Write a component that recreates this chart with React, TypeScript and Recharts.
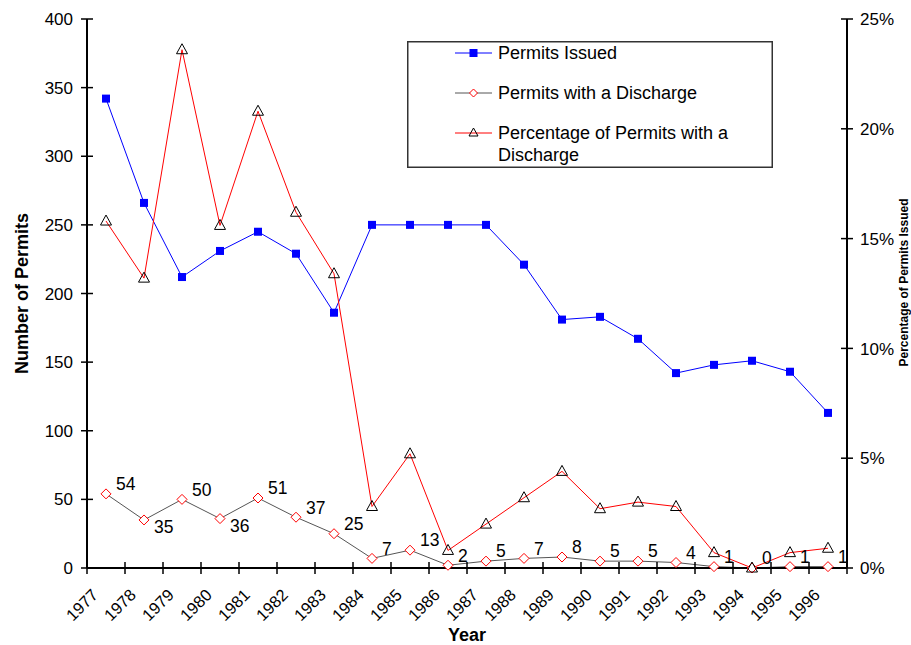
import React from "react";
import { LineChart, Line, XAxis, YAxis, Legend, LabelList, Label } from "recharts";

const FONT = '"Liberation Sans", Arial, sans-serif';

const years = [
  "1977", "1978", "1979", "1980", "1981", "1982", "1983", "1984", "1985", "1986",
  "1987", "1988", "1989", "1990", "1991", "1992", "1993", "1994", "1995", "1996",
];
const permitsIssued = [342, 266, 212, 231, 245, 229, 186, 250, 250, 250, 250, 221, 181, 183, 167, 142, 148, 151, 143, 113];
const permitsDischarge = [54, 35, 50, 36, 51, 37, 25, 7, 13, 2, 5, 7, 8, 5, 5, 4, 1, 0, 1, 1];
const pctDischarge = [15.8, 13.2, 23.6, 15.6, 20.8, 16.2, 13.4, 2.8, 5.2, 0.8, 2.0, 3.2, 4.4, 2.7, 3.0, 2.8, 0.7, 0, 0.7, 0.9];

const leftTicks = [0, 50, 100, 150, 200, 250, 300, 350, 400];
const rightTicks = [0, 5, 10, 15, 20, 25];
const xTicks = Array.from({ length: years.length + 1 }, (_, i) => i);

const data = years.map((year, i) => ({
  x: i + 0.5,
  year,
  issued: permitsIssued[i],
  discharge: permitsDischarge[i],
  pct: pctDischarge[i],
}));

function XTick({ x, y, payload }: any) {
  const i = payload.value;
  return (
    <g>
      <line x1={x} x2={x} y1={y - 6} y2={y + 6} stroke="#000" strokeWidth={1.5} />
      {i < years.length && (
        <text
          transform={`translate(${x + 12},${y + 28}) rotate(-45)`}
          textAnchor="end"
          fontFamily={FONT}
          fontSize={16.5}
          fill="#000"
        >
          {years[i]}
        </text>
      )}
    </g>
  );
}

function LeftTick({ x, y, payload }: any) {
  return (
    <g>
      <line x1={x - 6} x2={x + 6} y1={y} y2={y} stroke="#000" strokeWidth={1.5} />
      <text x={x - 14} y={y} dy="0.36em" textAnchor="end" fontFamily={FONT} fontSize={17} fill="#000">
        {payload.value}
      </text>
    </g>
  );
}

function RightTick({ x, y, payload }: any) {
  return (
    <g>
      <line x1={x - 6} x2={x + 6} y1={y} y2={y} stroke="#000" strokeWidth={1.5} />
      <text x={x + 13} y={y} dy="0.36em" textAnchor="start" fontFamily={FONT} fontSize={17} fill="#000">
        {payload.value}%
      </text>
    </g>
  );
}

function SquareDot({ cx, cy, index }: any) {
  return <rect key={`sq-${index}`} x={cx - 4} y={cy - 4} width={8} height={8} fill="#0000ff" />;
}

function DiamondDot({ cx, cy, index }: any) {
  return (
    <path
      key={`dm-${index}`}
      d={`M${cx},${cy - 5} L${cx + 5},${cy} L${cx},${cy + 5} L${cx - 5},${cy} Z`}
      fill="#fff"
      stroke="#ff0000"
      strokeWidth={1}
    />
  );
}

function TriangleDot({ cx, cy, index }: any) {
  return (
    <path
      key={`tr-${index}`}
      d={`M${cx},${cy - 6} L${cx + 5.5},${cy + 4} L${cx - 5.5},${cy + 4} Z`}
      fill="none"
      stroke="#000"
      strokeWidth={1}
    />
  );
}

// labels go below the point in a clear valley, otherwise up and to the right
function DischargeLabel({ x, y, value, index }: any) {
  const prev = permitsDischarge[index - 1];
  const next = permitsDischarge[index + 1];
  const valley = prev !== undefined && next !== undefined && prev - value > 10 && next - value > 10;
  return (
    <text x={x + 10} y={y + (valley ? 7 : -10)} dy="0.36em" fontFamily={FONT} fontSize={17.5} fill="#000">
      {value}
    </text>
  );
}

function LegendBox() {
  const rows = [
    { y: 12, stroke: "#0000ff", marker: "square", text: ["Permits Issued"] },
    { y: 52, stroke: "#555555", marker: "diamond", text: ["Permits with a Discharge"] },
    { y: 92, stroke: "#ff0000", marker: "triangle", text: ["Percentage of Permits with a", "Discharge"] },
  ];
  return (
    <svg width={366} height={127} style={{ display: "block" }}>
      <rect x={0.75} y={0.75} width={364.5} height={125.5} fill="#fff" stroke="#333" strokeWidth={1.5} />
      {rows.map((r) => (
        <g key={r.marker}>
          <line x1={48} x2={85} y1={r.y} y2={r.y} stroke={r.stroke} strokeWidth={1} />
          {r.marker === "square" && <rect x={62.5} y={r.y - 4} width={8} height={8} fill="#0000ff" />}
          {r.marker === "diamond" && (
            <path d={`M66.5,${r.y - 4} L70.5,${r.y} L66.5,${r.y + 4} L62.5,${r.y} Z`} fill="#fff" stroke="#ff0000" />
          )}
          {r.marker === "triangle" && (
            <path d={`M66.5,${r.y - 5} L71,${r.y + 3} L62,${r.y + 3} Z`} fill="none" stroke="#000" />
          )}
          {r.text.map((t, k) => (
            <text key={k} x={91} y={r.y + k * 22} dy="0.36em" fontFamily={FONT} fontSize={18} fill="#000">
              {t}
            </text>
          ))}
        </g>
      ))}
    </svg>
  );
}

export default function App() {
  return (
    <div style={{ position: "absolute", left: 0, top: 0, width: 911, height: 645, background: "#fff" }}>
      <LineChart width={911} height={645} data={data} margin={{ top: 19, right: 0, bottom: 0, left: 1 }}>
        <XAxis
          type="number"
          dataKey="x"
          domain={[0, 20]}
          ticks={xTicks}
          interval={0}
          height={77}
          tickLine={false}
          tickSize={0}
          tickMargin={0}
          tick={<XTick />}
          axisLine={{ stroke: "#000", strokeWidth: 2 }}
        >
          <Label
            content={({ viewBox }: any) => (
              <text
                x={viewBox.x + viewBox.width / 2}
                y={viewBox.y + 73}
                textAnchor="middle"
                fontFamily={FONT}
                fontWeight="bold"
                fontSize={18}
                fill="#000"
              >
                Year
              </text>
            )}
          />
        </XAxis>
        <YAxis
          yAxisId="left"
          domain={[0, 400]}
          ticks={leftTicks}
          interval={0}
          width={86}
          tickLine={false}
          tickSize={0}
          tickMargin={0}
          tick={<LeftTick />}
          axisLine={{ stroke: "#000", strokeWidth: 2 }}
        >
          <Label
            content={({ viewBox }: any) => {
              const cx = viewBox.x + 21;
              const cy = viewBox.y + viewBox.height / 2;
              return (
                <text
                  transform={`translate(${cx},${cy}) rotate(-90)`}
                  textAnchor="middle"
                  dy="0.36em"
                  fontFamily={FONT}
                  fontWeight="bold"
                  fontSize={18}
                  fill="#000"
                >
                  Number of Permits
                </text>
              );
            }}
          />
        </YAxis>
        <YAxis
          yAxisId="right"
          orientation="right"
          domain={[0, 25]}
          ticks={rightTicks}
          interval={0}
          width={64}
          tickLine={false}
          tickSize={0}
          tickMargin={0}
          tick={<RightTick />}
          axisLine={{ stroke: "#000", strokeWidth: 2 }}
        >
          <Label
            content={({ viewBox }: any) => {
              const cx = viewBox.x + 57;
              const cy = viewBox.y + viewBox.height / 2 - 11;
              return (
                <text
                  transform={`translate(${cx},${cy}) rotate(-90)`}
                  textAnchor="middle"
                  dy="0.36em"
                  fontFamily={FONT}
                  fontWeight="bold"
                  fontSize={12}
                  fill="#000"
                >
                  Percentage of Permits Issued
                </text>
              );
            }}
          />
        </YAxis>
        <Legend
          layout="horizontal"
          verticalAlign="middle"
          align="center"
          content={() => <LegendBox />}
          wrapperStyle={{ left: 407, top: 41, width: 366, height: 127 }}
        />
        <Line
          yAxisId="left"
          dataKey="issued"
          stroke="#0000ff"
          strokeWidth={1}
          dot={SquareDot}
          activeDot={false}
          isAnimationActive={false}
        />
        <Line
          yAxisId="left"
          dataKey="discharge"
          stroke="#555555"
          strokeWidth={1}
          dot={DiamondDot}
          activeDot={false}
          isAnimationActive={false}
        >
          <LabelList dataKey="discharge" content={<DischargeLabel />} />
        </Line>
        <Line
          yAxisId="right"
          dataKey="pct"
          stroke="#ff0000"
          strokeWidth={1}
          dot={TriangleDot}
          activeDot={false}
          isAnimationActive={false}
        />
      </LineChart>
    </div>
  );
}
